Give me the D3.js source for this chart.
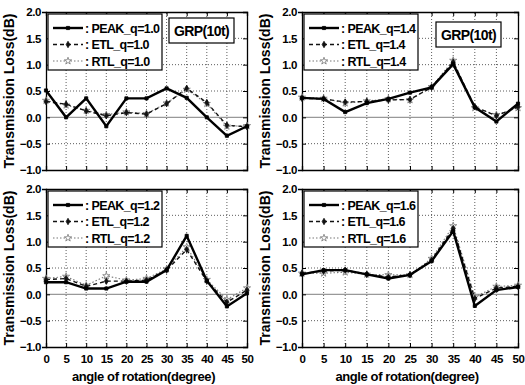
<!DOCTYPE html>
<html>
<head>
<meta charset="utf-8">
<script src="https://cdn.jsdelivr.net/npm/d3@7"></script>
<style>
  body { margin: 0; background: #fff; }
  svg { display: block; font-family: "Liberation Sans", Arial, sans-serif; font-weight: bold; }
</style>
</head>
<body>
<svg id="chart" width="525" height="385"></svg>
<script>
const width = 525, height = 385

// angle of rotation (degree)
const angles = [0, 5, 10, 15, 20, 25, 30, 35, 40, 45, 50]
const yTicks = [-1.0, -0.5, 0.0, 0.5, 1.0, 1.5, 2.0]

// q = 1.0
const peak10 = [0.51, 0.00, 0.36, -0.17, 0.36, 0.36, 0.55, 0.37, 0.00, -0.35, -0.17]
const etl10  = [0.30, 0.25, 0.12, 0.03, 0.09, 0.06, 0.26, 0.55, 0.28, -0.15, -0.18]
const rtl10  = [0.32, 0.23, 0.13, 0.05, 0.10, 0.07, 0.27, 0.53, 0.26, -0.17, -0.16]
// q = 1.4
const peak14 = [0.37, 0.35, 0.10, 0.27, 0.35, 0.47, 0.57, 1.01, 0.19, -0.08, 0.26]
const etl14  = [0.36, 0.35, 0.29, 0.30, 0.33, 0.34, 0.57, 1.05, 0.20, 0.03, 0.20]
const rtl14  = [0.38, 0.36, 0.27, 0.31, 0.35, 0.33, 0.58, 1.08, 0.18, 0.05, 0.18]
// q = 1.2
const peak12 = [0.23, 0.23, 0.11, 0.11, 0.24, 0.24, 0.46, 1.11, 0.26, -0.23, 0.02]
const etl12  = [0.28, 0.30, 0.15, 0.25, 0.25, 0.27, 0.46, 0.85, 0.25, -0.15, 0.08]
const rtl12  = [0.30, 0.34, 0.17, 0.35, 0.27, 0.30, 0.48, 0.90, 0.28, -0.10, 0.12]
// q = 1.6
const peak16 = [0.38, 0.46, 0.46, 0.38, 0.30, 0.37, 0.63, 1.20, -0.22, 0.08, 0.14]
const etl16  = [0.40, 0.44, 0.46, 0.38, 0.33, 0.37, 0.65, 1.25, -0.08, 0.12, 0.15]
const rtl16  = [0.40, 0.40, 0.42, 0.38, 0.37, 0.37, 0.68, 1.30, -0.05, 0.15, 0.17]

const panels = [
  {q: '1.0', left: 46,  top: 12,  w: 201, peak: peak10, etl: etl10, rtl: rtl10, grp: [123, 6],  xlab: false},
  {q: '1.4', left: 302, top: 12,  w: 216, peak: peak14, etl: etl14, rtl: rtl14, grp: [134, 10], xlab: false},
  {q: '1.2', left: 46,  top: 189, w: 201, peak: peak12, etl: etl12, rtl: rtl12, grp: null,      xlab: true},
  {q: '1.6', left: 302, top: 189, w: 216, peak: peak16, etl: etl16, rtl: rtl16, grp: null,      xlab: true}
]
const plotH = 158

const svg = d3.select('#chart')

const styles = {
  peak: {stroke: '#000', width: 2.4, dash: null, sym: d3.symbolSquare, size: 10, fill: '#000'},
  etl:  {stroke: '#111', width: 1.4, dash: '4,3', sym: d3.symbolDiamond, size: 12, fill: '#111'},
  rtl:  {stroke: '#777', width: 1.1, dash: '1.5,2', sym: d3.symbolStar, size: 16, fill: '#fff'}
}

panels.forEach(p => {
  const x = d3.scaleLinear().domain([0, 50]).range([p.left, p.left + p.w])
  const y = d3.scaleLinear().domain([-1, 2]).range([p.top + plotH, p.top])
  const g = svg.append('g')

  //grid
  g.selectAll('.gx').data(angles.slice(1, -1)).join('line')
    .attr('x1', d => x(d)).attr('x2', d => x(d))
    .attr('y1', y(-1)).attr('y2', y(2))
    .attr('stroke', '#333').attr('stroke-width', 0.8).attr('stroke-dasharray', '1,2')
  g.selectAll('.gy').data(yTicks.slice(1, -1)).join('line')
    .attr('x1', x(0)).attr('x2', x(50))
    .attr('y1', d => y(d)).attr('y2', d => y(d))
    .attr('stroke', d => d === 0 ? '#999' : '#333')
    .attr('stroke-width', d => d === 0 ? 1.2 : 0.8)
    .attr('stroke-dasharray', d => d === 0 ? null : '1,2')

  //ejes
  const xAxis = d3.axisBottom(x).tickValues(angles).tickSize(-4).tickPadding(8)
    .tickFormat(p.xlab ? d3.format('d') : '')
  const xa = g.append('g').attr('transform', `translate(0, ${y(-1)})`).call(xAxis)
  const xTop = g.append('g').attr('transform', `translate(0, ${y(2)})`)
    .call(d3.axisTop(x).tickValues(angles).tickSize(-4).tickFormat(''))
  const yAxis = d3.axisLeft(y).tickValues(yTicks).tickSize(4).tickPadding(1).tickFormat(d3.format('.1f'))
  const ya = g.append('g').attr('transform', `translate(${x(0)}, 0)`).call(yAxis)
  const yRight = g.append('g').attr('transform', `translate(${x(50)}, 0)`)
    .call(d3.axisRight(y).tickValues(yTicks).tickSize(-4).tickFormat(''))
  ;[xa, xTop, ya, yRight].forEach(a => {
    a.select('.domain').attr('stroke', '#000').attr('stroke-width', 1.3)
    a.selectAll('.tick line').attr('stroke', '#000')
    a.selectAll('text').attr('font-size', 11.5).attr('font-weight', 'bold').attr('fill', '#000')
      .attr('letter-spacing', -0.4)
      .attr('font-family', '"Liberation Sans", Arial, sans-serif')
  })
  ya.selectAll('.tick line').attr('x2', 4)

  // y title
  g.append('text')
    .text('Transmission Loss(dB)')
    .attr('transform', `translate(${p.left - 32}, ${p.top + plotH / 2}) rotate(-90)`)
    .attr('text-anchor', 'middle')
    .attr('font-size', 14)
    .attr('fill', '#000')

  if (p.xlab) {
    g.append('text')
      .text('angle of rotation(degree)')
      .attr('x', p.left + p.w / 2 - 3)
      .attr('y', 381)
      .attr('text-anchor', 'middle')
      .attr('font-size', 13)
      .attr('letter-spacing', -0.4)
      .attr('fill', '#000')
  }

  //series
  const series = [['rtl', p.rtl], ['etl', p.etl], ['peak', p.peak]]
  series.forEach(([k, vals]) => {
    const s = styles[k]
    const pts = angles.map((a, i) => [a, vals[i]])
    g.append('path')
      .datum(pts)
      .attr('d', d3.line().x(d => x(d[0])).y(d => y(d[1])))
      .attr('fill', 'none')
      .attr('stroke', s.stroke)
      .attr('stroke-width', s.width)
      .attr('stroke-dasharray', s.dash)
    g.selectAll('.m' + k).data(pts).join('path')
      .attr('transform', d => `translate(${x(d[0])}, ${y(d[1])})`)
      .attr('d', d3.symbol().type(s.sym).size(s.size))
      .attr('fill', s.fill)
      .attr('stroke', s.stroke)
      .attr('stroke-width', 0.8)
  })

  //leyenda
  const lg = g.append('g').attr('transform', `translate(${p.left + 2}, ${p.top + 2})`)
  lg.append('rect').attr('width', 114).attr('height', 56)
    .attr('fill', '#fff').attr('stroke', '#000').attr('stroke-width', 1.2)
  const rows = [['peak', 'PEAK'], ['etl', 'ETL'], ['rtl', 'RTL']]
  rows.forEach(([k, name], i) => {
    const s = styles[k]
    const ry = 14 + i * 16.5
    lg.append('line')
      .attr('x1', 5).attr('x2', 35).attr('y1', ry).attr('y2', ry)
      .attr('stroke', s.stroke).attr('stroke-width', s.width)
      .attr('stroke-dasharray', s.dash)
    lg.append('path')
      .attr('transform', `translate(20, ${ry})`)
      .attr('d', d3.symbol().type(s.sym).size(s.size))
      .attr('fill', s.fill).attr('stroke', s.stroke).attr('stroke-width', 0.8)
    lg.append('text')
      .text(`: ${name}_q=${p.q}`)
      .attr('x', 37).attr('y', ry + 4.5)
      .attr('font-size', 12.5)
      .attr('letter-spacing', -0.6)
      .attr('fill', '#000')
  })

  if (p.grp) {
    const gg = g.append('g').attr('transform', `translate(${p.left + p.grp[0]}, ${p.top + p.grp[1]})`)
    gg.append('rect').attr('width', 65).attr('height', 25)
      .attr('fill', '#fff').attr('stroke', '#000').attr('stroke-width', 1.2)
    gg.append('text').text('GRP(10t)')
      .attr('x', 32.5).attr('y', 17.5)
      .attr('text-anchor', 'middle')
      .attr('font-size', 14)
      .attr('letter-spacing', -0.6)
      .attr('fill', '#000')
  }
})
</script>
</body>
</html>
